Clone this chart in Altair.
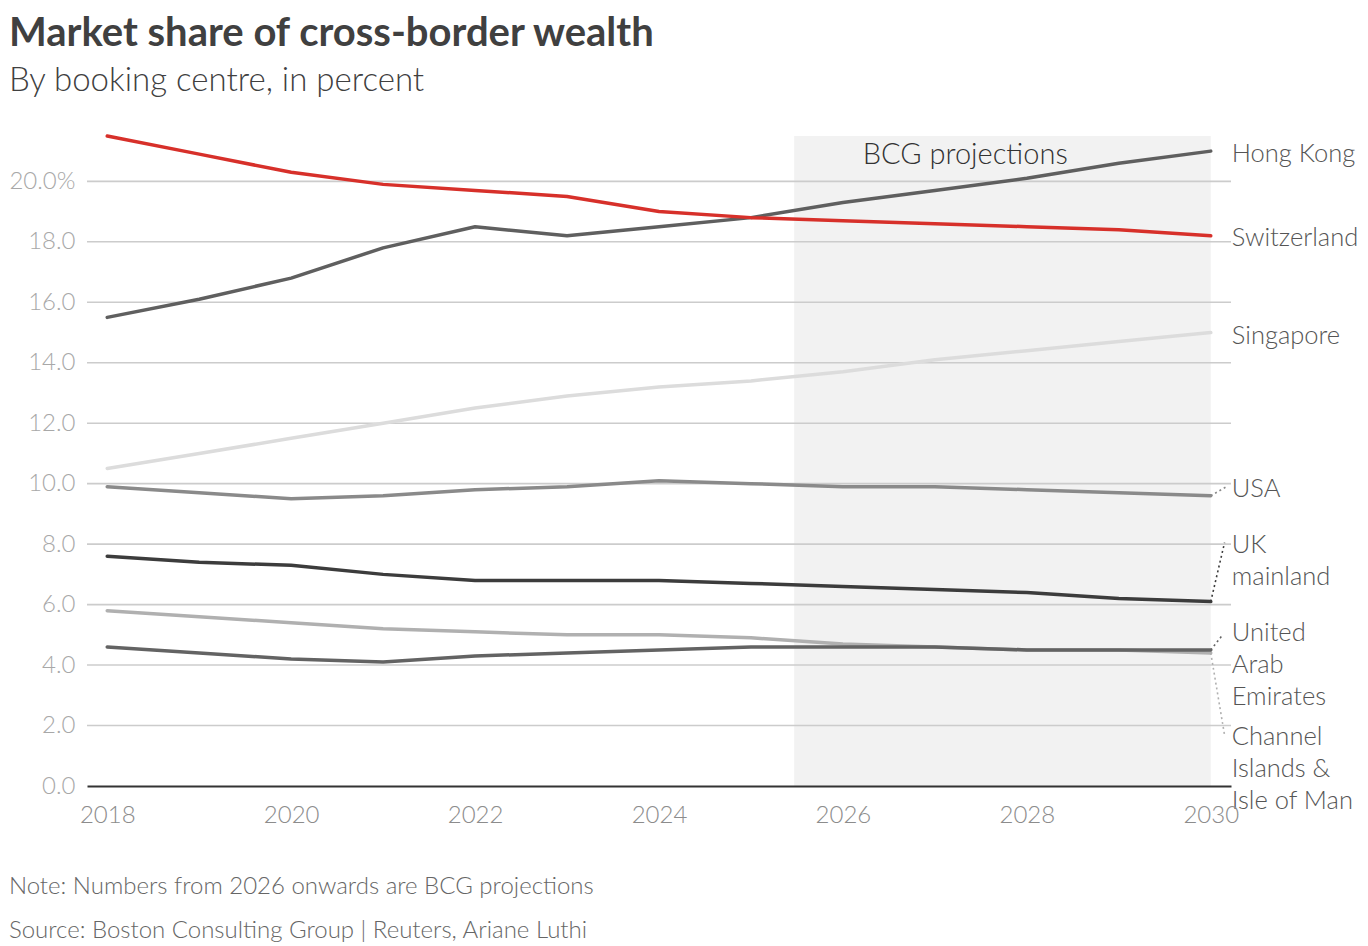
import altair as alt
import pandas as pd

# ---------------- data ----------------
years = list(range(2018, 2031))
switzerland = [21.5, 20.9, 20.3, 19.9, 19.7, 19.5, 19.0, 18.8, 18.7, 18.6, 18.5, 18.4, 18.2]
hong_kong = [15.5, 16.1, 16.8, 17.8, 18.5, 18.2, 18.5, 18.8, 19.3, 19.7, 20.1, 20.6, 21.0]
singapore = [10.5, 11.0, 11.5, 12.0, 12.5, 12.9, 13.2, 13.4, 13.7, 14.1, 14.4, 14.7, 15.0]
usa = [9.9, 9.7, 9.5, 9.6, 9.8, 9.9, 10.1, 10.0, 9.9, 9.9, 9.8, 9.7, 9.6]
uk_mainland = [7.6, 7.4, 7.3, 7.0, 6.8, 6.8, 6.8, 6.7, 6.6, 6.5, 6.4, 6.2, 6.1]
channel_islands = [5.8, 5.6, 5.4, 5.2, 5.1, 5.0, 5.0, 4.9, 4.7, 4.6, 4.5, 4.5, 4.4]
uae = [4.6, 4.4, 4.2, 4.1, 4.3, 4.4, 4.5, 4.6, 4.6, 4.6, 4.5, 4.5, 4.5]

# drawing order (back to front)
series_names = ["Singapore", "Channel Islands & Isle of Man", "USA", "UK mainland",
                "United Arab Emirates", "Hong Kong", "Switzerland"]
series_values = [singapore, channel_islands, usa, uk_mainland, uae, hong_kong, switzerland]
series_colors = ["#dcdcdc", "#b0b0b0", "#8a8a8a", "#3c3c3c", "#636363", "#5f5f5f", "#d7302a"]

# end-of-line labels (text, first-line anchor in data units)
label_texts = ["Hong Kong", "Switzerland", "Singapore", "USA", "UK\nmainland",
               "United\nArab\nEmirates", "Channel\nIslands &\nIsle of Man"]
label_y = [20.92, 18.14, 14.90, 9.81, 7.96, 5.05, 1.61]

# dotted leader lines: series, end x, end y, colour
leader_series = ["USA", "UK mainland", "United Arab Emirates", "Channel Islands & Isle of Man"]
leader_end_x = [2030.17, 2030.15, 2030.13, 2030.15]
leader_end_y = [9.9, 8.05, 5.0, 1.68]
leader_colors = ["#8a8a8a", "#3c3c3c", "#636363", "#b0b0b0"]

y_ticks = [0, 2, 4, 6, 8, 10, 12, 14, 16, 18, 20]
x_ticks = [2018, 2020, 2022, 2024, 2026, 2028, 2030]
proj_start, proj_end, proj_top = 2025.47, 2030, 21.5

FONT = "Lato"

# ---------------- build ----------------
rows = []
for name, vals in zip(series_names, series_values):
    for yr, v in zip(years, vals):
        rows.append({"series": name, "year": yr, "value": v})
df = pd.DataFrame(rows)

x_scale = alt.Scale(domain=[2017.78, 2030.22], nice=False, zero=False)
y_scale = alt.Scale(domain=[0, 21.5], nice=False)

x_axis = alt.Axis(values=x_ticks, format="d", title=None, grid=False, ticks=False, tickSize=0,
                  domain=True, domainColor="#333333", domainWidth=2, labelPadding=17,
                  labelFont=FONT, labelFontSize=24, labelFontWeight=300, labelColor="#8c8c8c",
                  zindex=1, labelFlush=False)
y_axis = alt.Axis(values=y_ticks, title=None, grid=False, ticks=False, tickSize=0, domain=False,
                  labelPadding=12, labelFont=FONT, labelFontSize=24, labelFontWeight=300,
                  labelColor="#a8a8a8",
                  labelExpr="datum.value == 20 ? '20.0%' : format(datum.value, '.1f')")


def X(field):
    return alt.X(field, type="quantitative", scale=x_scale, axis=x_axis, title=None)


def Y(field):
    return alt.Y(field, type="quantitative", scale=y_scale, axis=y_axis, title=None)


shade = alt.Chart(pd.DataFrame({"x0": [proj_start], "x1": [proj_end], "y0": [0], "y1": [proj_top]})).mark_rect(
    color="#f2f2f2").encode(x=X("x0"), x2="x1", y=Y("y0"), y2="y1")

grid = alt.Chart(pd.DataFrame({"v": y_ticks[1:]})).mark_rule(color="#cccccc", strokeWidth=1.6).encode(
    y=Y("v")
)

proj_label = alt.Chart(pd.DataFrame({"x": [2027.33], "y": [20.88], "t": ["BCG projections"]})).mark_text(
    font=FONT, fontSize=29, fontWeight=300, color="#333333", align="center", baseline="middle").encode(
    x=X("x"), y=Y("y"), text="t:N"
)

line_layers = []
for name, col in zip(series_names, series_colors):
    line_layers.append(
        alt.Chart(df).transform_filter(alt.datum.series == name).mark_line(
            color=col, strokeWidth=3.5, strokeCap="round", strokeJoin="round").encode(
            x=X("year"), y=Y("value"))
    )

end_vals = {n: v[-1] for n, v in zip(series_names, series_values)}
leaders = pd.DataFrame({
    "x0": [years[-1]] * len(leader_series),
    "y0": [end_vals[s] for s in leader_series],
    "x1": leader_end_x,
    "y1": leader_end_y,
    "c": leader_colors,
})
leader_layer = alt.Chart(leaders).mark_rule(strokeWidth=1.6, strokeDash=[2, 3]).encode(
    x=X("x0"), y=Y("y0"), x2="x1", y2="y1",
    color=alt.Color("c:N", scale=None, legend=None),
)

labels = pd.DataFrame({"t": label_texts, "y": label_y, "x": [years[-1]] * len(label_texts)})
label_layer = alt.Chart(labels).mark_text(
    font=FONT, fontSize=25.5, fontWeight=300, color="#555555", align="left", baseline="middle",
    dx=21, lineBreak="\n", lineHeight=32).encode(
    x=X("x"), y=Y("y"), text="t:N"
)

main = alt.layer(shade, grid, proj_label, *line_layers, leader_layer, label_layer).properties(
    width=1144, height=650,
    title=alt.TitleParams(
        text="Market share of cross-border wealth",
        subtitle="By booking centre, in percent",
        anchor="start", frame="bounds",
        font=FONT, fontSize=40, fontWeight="bold", color="#404040",
        subtitleFont=FONT, subtitleFontSize=33, subtitleFontWeight=300, subtitleColor="#404040",
        subtitlePadding=11, offset=36,
    ),
)

chart = alt.vconcat(main).properties(
    padding={"left": 0, "top": 6, "right": 0, "bottom": 4},
    title=alt.TitleParams(
        text=["Note: Numbers from 2026 onwards are BCG projections",
              "Source: Boston Consulting Group | Reuters, Ariane Luthi"],
        orient="bottom", anchor="start", frame="bounds",
        font=FONT, fontSize=24, fontWeight=300, color="#666666",
        lineHeight=44, offset=48,
    ),
).configure_view(stroke=None).configure_concat(spacing=0)

chart.save("out.html", embed_options={"renderer": "svg", "actions": False})
